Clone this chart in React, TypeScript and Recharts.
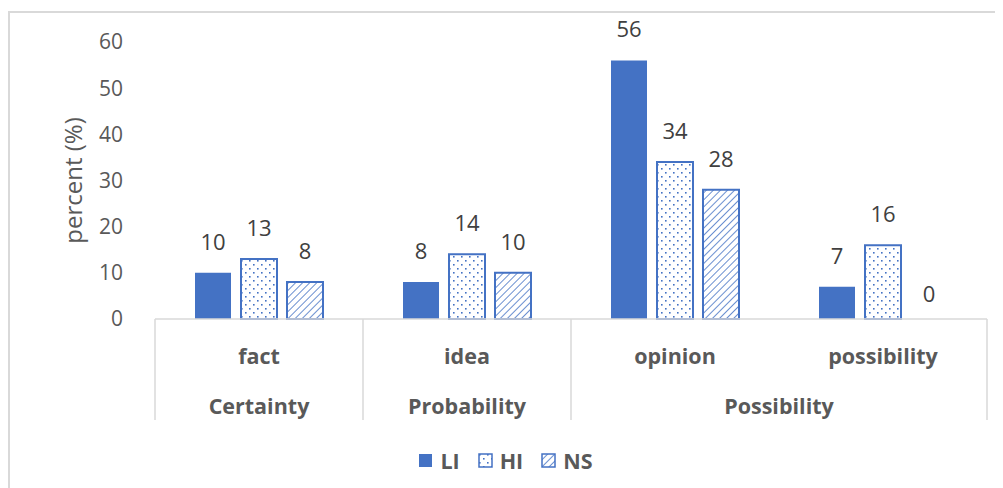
import React from 'react';
import { Bar, BarChart, LabelList, Legend, Rectangle, XAxis, YAxis } from 'recharts';

const subCategories = ['fact', 'idea', 'opinion', 'possibility'];
const groups = ['Certainty', 'Probability', 'Possibility', 'Possibility'];
const liValues = [10, 8, 56, 7];
const hiValues = [13, 14, 34, 16];
const nsValues = [8, 10, 28, 0];
const yTicks = [0, 10, 20, 30, 40, 50, 60];

const data = subCategories.map((sub, i) => ({
  sub,
  group: groups[i],
  LI: liValues[i],
  HI: hiValues[i],
  NS: nsValues[i],
}));

const BLUE = '#4472C4';
const TEXT = '#595959';
const FONT = '"Open Sans", "Noto Sans", sans-serif';

const WIDTH = 995;
const HEIGHT = 477;
const MARGIN = { top: 31, right: 16, left: 0, bottom: 38 };
const Y_AXIS_WIDTH = 147;
const X_AXIS_HEIGHT = 101;
const BAND = (WIDTH - MARGIN.left - MARGIN.right - Y_AXIS_WIDTH) / subCategories.length;

const seriesFill: Record<string, string> = {
  LI: BLUE,
  HI: 'url(#dots)',
  NS: 'url(#hatch)',
};

// two-row category axis: sub label, group label, separator lines
const CategoryTick = (props: any) => {
  const { x, y, payload, index } = props;
  const left = x - BAND / 2;
  const right = x + BAND / 2;
  const lines: React.ReactNode[] = [];
  const prevGroup = index > 0 ? groups[index - 1] : null;
  if (groups[index] !== prevGroup) {
    lines.push(<line key="l" x1={left} x2={left} y1={y} y2={y + X_AXIS_HEIGHT} stroke="#d9d9d9" strokeWidth={1.5} />);
  }
  if (index === subCategories.length - 1) {
    lines.push(<line key="r" x1={right} x2={right} y1={y} y2={y + X_AXIS_HEIGHT} stroke="#d9d9d9" strokeWidth={1.5} />);
  }
  let groupLabel: React.ReactNode = null;
  if (groups[index] !== prevGroup) {
    let n = 1;
    while (groups[index + n] === groups[index]) n++;
    groupLabel = (
      <text x={left + (n * BAND) / 2} y={y + 86} textAnchor="middle" dominantBaseline="central"
        fill={TEXT} fontSize={21.5} fontWeight="bold" fontFamily={FONT}>
        {groups[index]}
      </text>
    );
  }
  return (
    <g>
      {lines}
      <text x={x} y={y + 36} textAnchor="middle" dominantBaseline="central"
        fill={TEXT} fontSize={21.5} fontWeight="bold" fontFamily={FONT}>
        {payload.value}
      </text>
      {groupLabel}
    </g>
  );
};

// value label above each bar, zero values included
const ValueLabel = (props: any) => {
  const { x, y, width, value } = props;
  if (value == null || x == null) return null;
  return (
    <text x={Number(x) + Number(width) / 2} y={Number(y) - (value === 0 ? 26 : 32)} textAnchor="middle"
      dominantBaseline="central" fill="#404040" fontSize={22} fontFamily={FONT}>
      {String(value)}
    </text>
  );
};

// zero-valued bars keep a hairline entry (so they get a label) but draw nothing
const BarShape = (props: any) => (Math.abs(props.height) < 0.5 ? <g /> : <Rectangle {...props} />);
const zeroPointSize = (value: any) => (value === 0 ? 0.01 : 0);

const Swatch = ({ fill, stroke }: { fill: string; stroke?: string }) => (
  <svg width={15} height={15} style={{ display: 'block' }}>
    <rect x={1} y={1} width={13} height={13} fill={fill} stroke={stroke ?? 'none'} strokeWidth={stroke ? 1.5 : 0} />
  </svg>
);

const LegendContent = () => (
  <div style={{ height: 30, display: 'flex', justifyContent: 'center', alignItems: 'center', gap: 18 }}>
    {['LI', 'HI', 'NS'].map((key) => (
      <div key={key} style={{ display: 'flex', alignItems: 'center', gap: 7 }}>
        <Swatch fill={seriesFill[key]} stroke={key === 'LI' ? undefined : BLUE} />
        <span style={{ color: TEXT, fontFamily: FONT, fontWeight: 'bold', fontSize: 21.5 }}>{key}</span>
      </div>
    ))}
  </div>
);

const YLabel = (props: any) => {
  const { viewBox } = props;
  const cx = viewBox.x + 64;
  const cy = viewBox.y + viewBox.height / 2;
  return (
    <text x={cx} y={cy} transform={`rotate(-90 ${cx} ${cy})`} textAnchor="middle" dominantBaseline="central"
      fill={TEXT} fontSize={24} fontFamily={FONT}>
      percent (%)
    </text>
  );
};

export default function App() {
  return (
    <div style={{ position: 'relative', width: WIDTH, height: HEIGHT, marginTop: 3 }}>
      <svg width={0} height={0} style={{ position: 'absolute' }}>
        <defs>
          <pattern id="dots" width={8} height={8} patternUnits="userSpaceOnUse">
            <rect width={8} height={8} fill="#ffffff" />
            <rect x={1} y={1} width={1.6} height={1.6} fill={BLUE} />
            <rect x={5} y={5} width={1.6} height={1.6} fill={BLUE} />
          </pattern>
          <pattern id="hatch" width={5} height={5} patternUnits="userSpaceOnUse" patternTransform="rotate(45)">
            <rect width={5} height={5} fill="#ffffff" />
            <line x1={0} y1={0} x2={0} y2={5} stroke={BLUE} strokeWidth={1.6} />
          </pattern>
        </defs>
      </svg>
      <div style={{ position: 'absolute', left: 0, top: 0, width: WIDTH + 8, height: HEIGHT,
        borderTop: '2px solid #d9d9d9', borderLeft: '2px solid #d9d9d9', boxSizing: 'border-box' }} />
      <div style={{ position: 'absolute', left: 0, top: 0 }}>
        <BarChart width={WIDTH} height={HEIGHT} data={data} margin={MARGIN} barSize={36} barGap={10}>
          <XAxis dataKey="sub" interval={0} height={X_AXIS_HEIGHT} tickLine={false} tickSize={0} tickMargin={0}
            axisLine={{ stroke: '#d9d9d9', strokeWidth: 1.5 }} tick={<CategoryTick />} />
          <YAxis width={Y_AXIS_WIDTH} domain={[0, 60]} ticks={yTicks} axisLine={false} tickLine={false}
            tickSize={0} tickMargin={32} tick={{ fill: TEXT, fontSize: 21, fontFamily: FONT }}
            label={<YLabel />} />
          <Legend verticalAlign="bottom" content={<LegendContent />}
            wrapperStyle={{ top: 434, left: 0, width: WIDTH, height: 30 }} />
          {['LI', 'HI', 'NS'].map((key) => (
            <Bar key={key} dataKey={key} fill={seriesFill[key]} stroke={key === 'LI' ? 'none' : BLUE}
              strokeWidth={key === 'LI' ? 0 : 2} isAnimationActive={false}
              minPointSize={zeroPointSize} shape={<BarShape />}>
              <LabelList dataKey={key} content={<ValueLabel />} />
            </Bar>
          ))}
        </BarChart>
      </div>
    </div>
  );
}
